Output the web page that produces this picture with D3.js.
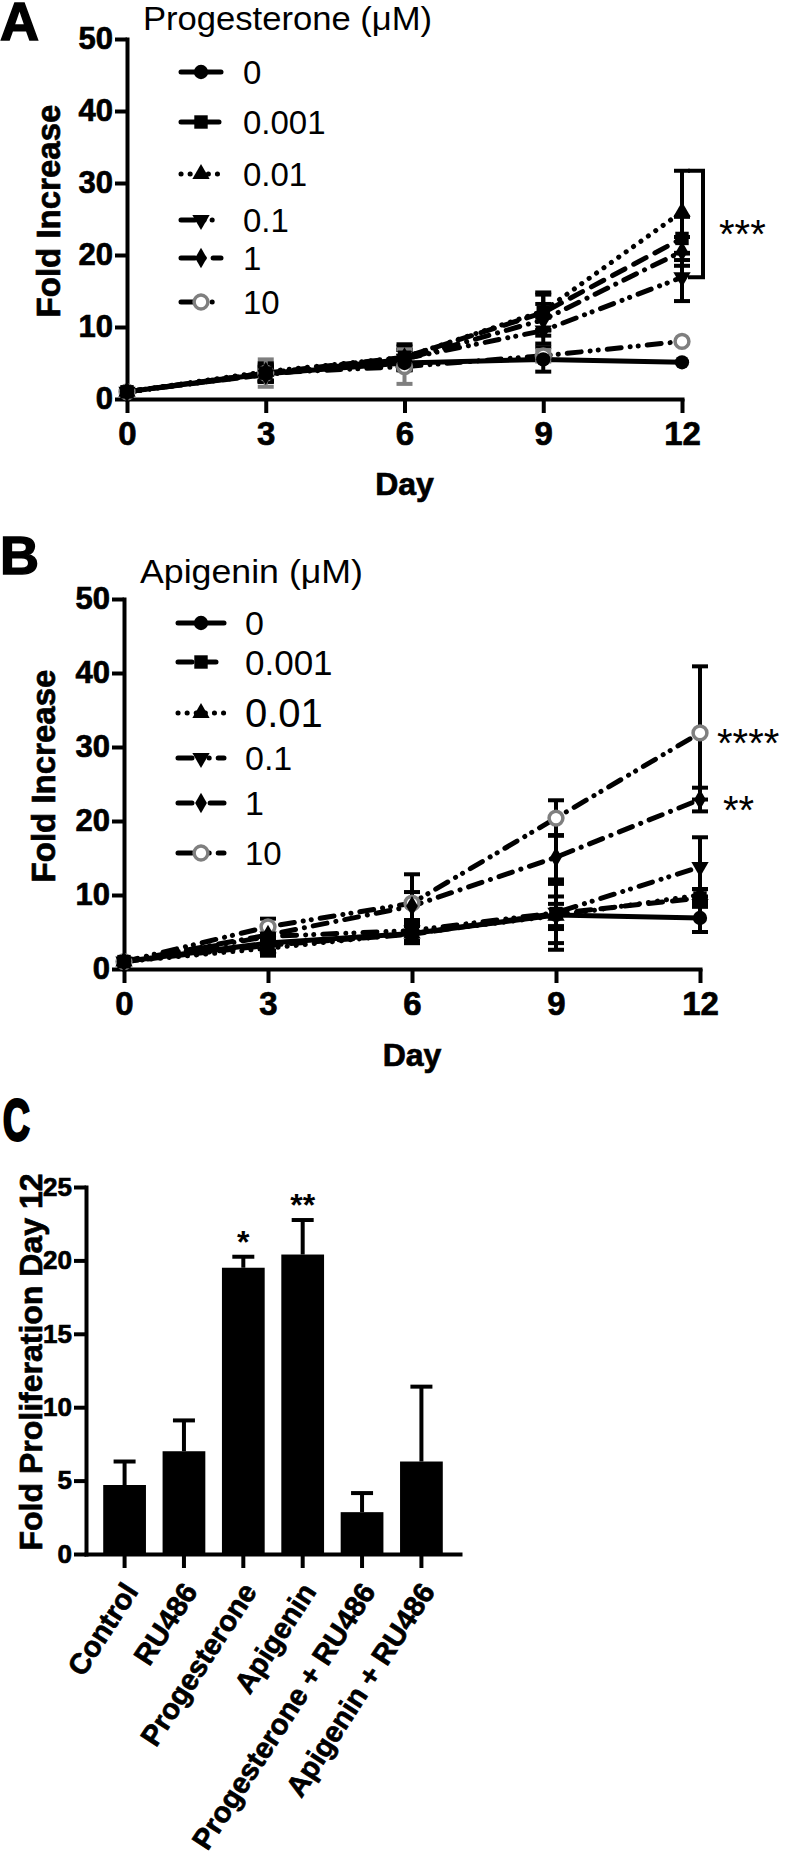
<!DOCTYPE html>
<html>
<head>
<meta charset="utf-8">
<script src="https://cdn.jsdelivr.net/npm/d3@7"></script>
<style>
body { margin: 0; background: #fff; }
svg { display: block; font-family: "Liberation Sans", Arial, sans-serif; }
</style>
</head>
<body>
<svg id="fig" width="788" height="1862"></svg>
<script>
// ---- data ----
const days = [0, 3, 6, 9, 12];
const doses = ["0", "0.001", "0.01", "0.1", "1", "10"];

// panel A, progesterone: one row per dose, one value per day
const progMean = [
  [1, 3.5, 5.0, 5.5, 5.1],
  [1, 3.6, 5.8, 12.0, 22.3],
  [1, 3.8, 5.8, 12.2, 26.0],
  [1, 3.4, 5.6, 9.5, 16.9],
  [1, 3.4, 5.5, 11.0, 20.5],
  [1, 3.6, 4.5, 6.0, 8.0]
];
const progSd = [
  [0.2, 1.0, 1.0, 1.7, 0],
  [0.2, 1.2, 1.5, 2.5, 3.0],
  [0.2, 1.2, 1.8, 2.6, 5.7],
  [0.2, 1.0, 1.2, 1.8, 3.3],
  [0.2, 1.0, 1.3, 2.2, 2.0],
  [0.2, 1.9, 2.4, 0.8, 0]
];

// panel B, apigenin
const apiMean = [
  [1, 3.5, 4.8, 7.3, 6.9],
  [1, 3.2, 4.7, 7.5, 9.6],
  [1, 2.8, 4.8, 7.2, 10.0],
  [1, 4.4, 5.2, 7.6, 13.8],
  [1, 4.6, 8.5, 15.1, 22.9],
  [1, 5.7, 8.9, 20.4, 31.9]
];
const apiSd = [
  [0.2, 1.0, 1.0, 1.5, 1.9],
  [0.2, 1.0, 1.2, 4.0, 1.2],
  [0.2, 1.0, 1.3, 4.6, 0.8],
  [0.2, 1.2, 1.4, 2.2, 4.0],
  [0.2, 1.0, 1.9, 3.0, 1.6],
  [0.2, 1.1, 3.9, 2.4, 9.0]
];

const lineTicks = [0, 10, 20, 30, 40, 50];

// panel C
const barGroups = ["Control", "RU486", "Progesterone", "Apigenin", "Progesterone + RU486", "Apigenin + RU486"];
const barMean = [4.7, 7.0, 19.5, 20.4, 2.85, 6.3];
const barSd = [1.6, 2.1, 0.75, 2.35, 1.3, 5.1];
const barStars = ["", "", "*", "**", "", ""];
const barTicks = [0, 5, 10, 15, 20, 25];

// ---- styles ----
const GREY = "#7f7f7f";
const dashes = ["none", "14,10", "0.1,9", "14,9,0.1,8,0.1,9", "14,9,0.1,9", "14,9,0.1,8,0.1,9"];
const shapes = [d3.symbolCircle, d3.symbolSquare, d3.symbolTriangle, d3.symbolTriangle, d3.symbolDiamond, d3.symbolCircle];
const shapeSize = [160, 180, 130, 130, 120, 150];
const shapeRot = [0, 0, 0, 180, 0, 0];

const svg = d3.select("#fig");

// heavy bold, close to the Helvetica Bold of the original
let heavy = (t, fs) => t.attr("font-size", fs).attr("font-weight", "bold")
  .attr("stroke", "#000").attr("stroke-width", 0.7);

let styleAxis = (g, fs) => {
  g.select(".domain").attr("stroke-width", 4).attr("stroke-linecap", "square");
  g.selectAll(".tick line").attr("stroke-width", 4);
  g.selectAll(".tick text").attr("font-family", "'Liberation Sans', Arial, sans-serif")
   .attr("fill", "#000").call(t => heavy(t, fs));
  g.attr("font-size", null).attr("font-family", null);
};

let drawMarker = (g, i, cx, cy) => {
  g.append("path")
   .attr("d", d3.symbol().type(shapes[i]).size(shapeSize[i])())
   .attr("transform", `translate(${cx},${cy}) rotate(${shapeRot[i]})`)
   .attr("fill", i === 5 ? "#fff" : "#000")
   .attr("stroke", i === 5 ? GREY : "none")
   .attr("stroke-width", i === 5 ? 3.5 : 0);
};

let linePanel = (o) => {
  let x = d3.scaleLinear().domain([0, 12]).range([o.x0, o.x1]);
  let y = d3.scaleLinear().domain([0, 50]).range([o.y0, o.y1]);
  let g = svg.append("g");

  // panel letter, legend title
  g.append("text").attr("x", 0).attr("y", o.letterY).attr("font-size", 54)
   .attr("font-weight", "bold").attr("stroke", "#000").attr("stroke-width", 1.5).text(o.letter);
  g.append("text").attr("x", o.titleX).attr("y", o.titleY).attr("font-size", 34)
   .attr("textLength", o.titleLen).attr("lengthAdjust", "spacingAndGlyphs").text(o.title);

  // axes
  g.append("g").attr("transform", `translate(${o.x0},0)`)
   .call(d3.axisLeft(y).tickValues(lineTicks).tickSize(12).tickSizeOuter(0).tickPadding(2))
   .call(a => styleAxis(a, 31));
  g.append("g").attr("transform", `translate(0,${o.y0})`)
   .call(d3.axisBottom(x).tickValues(days).tickSize(14).tickSizeOuter(0).tickPadding(9))
   .call(a => styleAxis(a, 33));

  g.append("text").attr("transform", `translate(${o.ylabX},${(o.y0 + o.y1) / 2 - 8}) rotate(-90)`)
   .attr("text-anchor", "middle").call(t => heavy(t, 33)).text("Fold Increase");
  g.append("text").attr("x", (o.x0 + o.x1) / 2).attr("y", o.y0 + o.dayDy)
   .attr("text-anchor", "middle").call(t => heavy(t, 32)).text("Day");

  let line = d3.line().x((d, i) => x(days[i])).y(d => y(d));

  // lines
  o.mean.forEach((m, s) => {
    g.append("path").attr("d", line(m)).attr("fill", "none").attr("stroke", "#000")
     .attr("stroke-width", 5).attr("stroke-linecap", "round")
     .attr("stroke-dasharray", dashes[s]);
  });
  // error bars
  o.mean.forEach((m, s) => {
    let col = (s === 5 && o.greyErr) ? GREY : "#000";
    m.forEach((v, i) => {
      let sd = o.sd[s][i];
      if (!sd) return;
      let cx = x(days[i]);
      g.append("line").attr("x1", cx).attr("x2", cx).attr("y1", y(v - sd)).attr("y2", y(v + sd))
       .attr("stroke", col).attr("stroke-width", 4);
      [v - sd, v + sd].forEach(e => {
        g.append("line").attr("x1", cx - 8).attr("x2", cx + 8).attr("y1", y(e)).attr("y2", y(e))
         .attr("stroke", col).attr("stroke-width", 4);
      });
    });
  });
  // markers, open grey circles first so the black ones sit on top
  d3.range(o.mean.length - 1, -1, -1).forEach(s => {
    o.mean[s].forEach((v, i) => drawMarker(g, s, x(days[i]), y(v)));
  });

  // legend
  doses.forEach((d, i) => {
    let ly = o.legY[i];
    g.append("line").attr("x1", o.legX0).attr("x2", o.legX1).attr("y1", ly).attr("y2", ly)
     .attr("stroke", "#000").attr("stroke-width", 5).attr("stroke-linecap", "round")
     .attr("stroke-dasharray", dashes[i]);
    drawMarker(g, i, (o.legX0 + o.legX1) / 2, ly);
    g.append("text").attr("x", o.legTextX).attr("y", ly).attr("dy", "0.36em")
     .attr("font-size", o.legFont[i]).text(d);
  });

  return {g, x, y};
};

// ---- panel A ----
let A = linePanel({
  letter: "A", letterY: 40, title: "Progesterone (\u03bcM)", titleX: 143, titleY: 30, titleLen: 289,
  x0: 127, x1: 682, y0: 399, y1: 39, ylabX: 60, dayDy: 96, greyErr: true,
  mean: progMean, sd: progSd,
  legY: [72, 122, 174, 220, 258, 302], legX0: 181, legX1: 221, legTextX: 243,
  legFont: [33, 33, 33, 33, 33, 33]
});
{
  let bx = A.x(12) + 21, top = A.y(progMean[2][4] + progSd[2][4]), bot = A.y(progMean[3][4]);
  A.g.append("path").attr("d", `M${bx - 15},${top}H${bx}V${bot}H${bx - 15}`)
   .attr("fill", "none").attr("stroke", "#000").attr("stroke-width", 4);
  A.g.append("text").attr("x", bx + 16).attr("y", (top + bot) / 2 + 24)
   .attr("font-size", 40).text("***");
}

// ---- panel B ----
let B = linePanel({
  letter: "B", letterY: 574, title: "Apigenin (\u03bcM)", titleX: 140, titleY: 583, titleLen: 223,
  x0: 124, x1: 700, y0: 969, y1: 599, ylabX: 55, dayDy: 97, greyErr: false,
  mean: apiMean, sd: apiSd,
  legY: [623, 662, 713, 758, 803, 853], legX0: 178, legX1: 224, legTextX: 245,
  legFont: [34, 35, 40, 34, 34, 33]
});
B.g.append("text").attr("x", B.x(12) + 17).attr("y", B.y(apiMean[5][4]) + 24)
 .attr("font-size", 40).text("****");
B.g.append("text").attr("x", B.x(12) + 23).attr("y", B.y(apiMean[4][4]) + 24)
 .attr("font-size", 40).text("**");

// ---- panel C ----
{
  let g = svg.append("g");
  let x = d3.scaleBand().domain(barGroups).range([86, 460]).paddingInner(0.28).paddingOuter(0.29);
  let y = d3.scaleLinear().domain([0, 25]).range([1554, 1187]);

  g.append("text").attr("transform", "translate(3,1140) scale(0.64,1)")
   .attr("font-size", 58).attr("font-weight", "bold")
   .attr("stroke", "#000").attr("stroke-width", 3).text("C");

  g.selectAll("rect.bar").data(barGroups).enter().append("rect")
   .attr("class", "bar")
   .attr("x", d => x(d)).attr("width", x.bandwidth())
   .attr("y", (d, i) => y(barMean[i])).attr("height", (d, i) => y(0) - y(barMean[i]))
   .attr("fill", "#000");

  barGroups.forEach((d, i) => {
    let cx = x(d) + x.bandwidth() / 2, top = y(barMean[i] + barSd[i]);
    g.append("line").attr("x1", cx).attr("x2", cx).attr("y1", y(barMean[i])).attr("y2", top)
     .attr("stroke", "#000").attr("stroke-width", 4);
    g.append("line").attr("x1", cx - 11).attr("x2", cx + 11).attr("y1", top).attr("y2", top)
     .attr("stroke", "#000").attr("stroke-width", 4);
    if (barStars[i]) {
      g.append("text").attr("x", cx).attr("y", top - 4).attr("text-anchor", "middle")
       .attr("font-size", 32).attr("font-weight", "bold").text(barStars[i]);
    }
  });

  g.append("g").attr("transform", "translate(86,0)")
   .call(d3.axisLeft(y).tickValues(barTicks).tickSize(12).tickSizeOuter(0).tickPadding(2))
   .call(a => styleAxis(a, 26));
  g.append("g").attr("transform", "translate(0,1554)")
   .call(d3.axisBottom(x).tickSize(14).tickSizeOuter(0))
   .call(a => styleAxis(a, 29))
   .call(a => a.selectAll(".tick text")
     .attr("x", 0).attr("y", 0).attr("dy", "0.35em")
     .attr("text-anchor", "end")
     .attr("transform", "translate(6,32) rotate(-57)"));

  g.append("text").attr("transform", "translate(42,1362) rotate(-90)")
   .attr("text-anchor", "middle").call(t => heavy(t, 32))
   .text("Fold Proliferation Day 12");
}
</script>
</body>
</html>
